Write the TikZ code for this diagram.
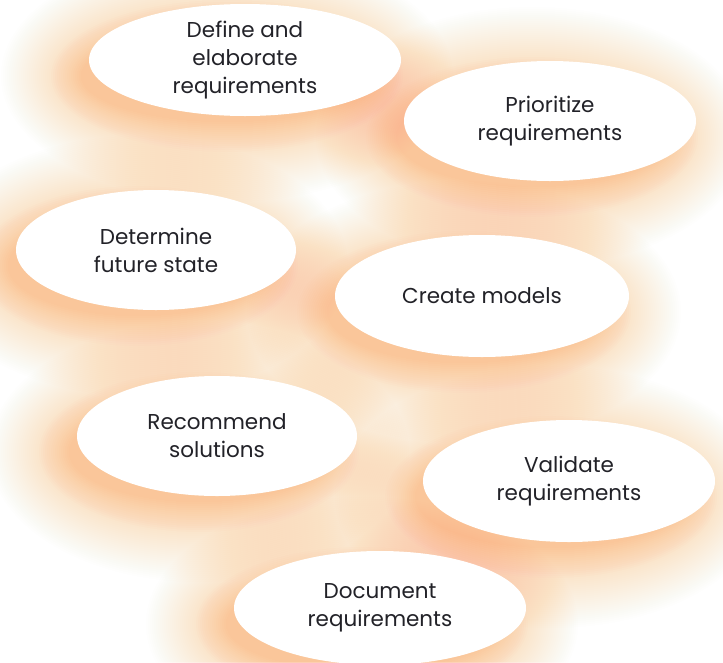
\documentclass[tikz,border=0pt]{standalone}
\usepackage{fontspec}
\setmainfont{Poppins}
\usetikzlibrary{shapes.geometric}
\definecolor{glowc}{RGB}{250,135,70}
\definecolor{txt}{RGB}{34,34,40}
\tikzset{
  bubble/.style={ellipse, fill=white, inner sep=0pt, text=txt, align=center,
    font=\fontsize{21.5}{28}\selectfont},
  glowouter/.style={fill=glowc, fill opacity=0.0085},
  glowinner/.style={fill=glowc, fill opacity=0.013}
}
\begin{document}
\begin{tikzpicture}[x=1pt,y=-1pt]
\useasboundingbox[fill=white] (0,0) rectangle (723,662);
% glows
\foreach \cx/\cy/\rx/\ry in {245/60/156/56, 550/121/146/60, 156/250/140/60, 482/296/147/61, 217/436/140/60, 569/481/146/61, 380/608/146/57}{
  \foreach \s in {0,2,...,80}{
    \fill[glowouter] (\cx-18,\cy+16) ellipse [x radius=\rx pt+\s pt-10pt, y radius=\ry pt+\s pt-10pt];
  }
  \foreach \s in {0,2,...,30}{
    \fill[glowinner] (\cx-18,\cy+16) ellipse [x radius=\rx pt+\s pt-10pt, y radius=\ry pt+\s pt-10pt];
  }
}
% bubbles
\node[bubble, minimum width=312pt, minimum height=112pt] (define) at (245,60) {Define and\\elaborate\\requirements};
\node[bubble, minimum width=292pt, minimum height=120pt] (prior) at (550,121) {Prioritize\\requirements};
\node[bubble, minimum width=280pt, minimum height=120pt] (determ) at (156,250) {Determine\\future state};
\node[bubble, minimum width=294pt, minimum height=122pt] (models) at (482,296) {Create models};
\node[bubble, minimum width=280pt, minimum height=120pt] (recomm) at (217,436) {Recommend\\solutions};
\node[bubble, minimum width=292pt, minimum height=122pt] (valid) at (569,481) {Validate\\requirements};
\node[bubble, minimum width=292pt, minimum height=114pt] (docum) at (380,608) {Document\\requirements};
\end{tikzpicture}
\end{document}
